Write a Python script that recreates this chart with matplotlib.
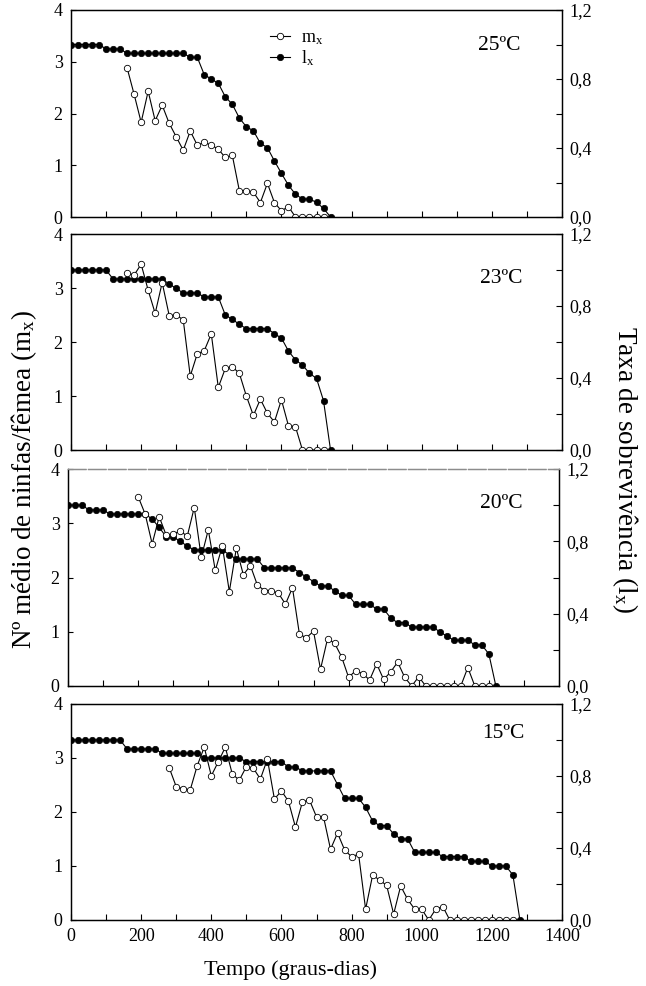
import matplotlib
matplotlib.use('agg')

import matplotlib.pyplot as plt
import numpy as np

plt.rcParams['font.family'] = ['Liberation Serif', 'DejaVu Serif']
plt.rcParams['mathtext.default'] = 'regular'

nan = np.nan

# tempo em graus-dias (leituras a cada 20 GD)
tempo = [0, 20, 40, 60, 80, 100, 120, 140, 160, 180, 200, 220, 240, 260, 280,
         300, 320, 340, 360, 380, 400, 420, 440, 460, 480, 500, 520, 540, 560,
         580, 600, 620, 640, 660, 680, 700, 720, 740, 760, 780, 800, 820, 840,
         860, 880, 900, 920, 940, 960, 980, 1000, 1020, 1040, 1060, 1080, 1100,
         1120, 1140, 1160, 1180, 1200, 1220, 1240, 1260, 1280]

temperaturas = ['25ºC', '23ºC', '20ºC', '15ºC']

# 25 C
lx_25 = [1.0, 1.0, 1.0, 1.0, 1.0, 0.974, 0.974, 0.974,
         0.949, 0.949, 0.949, 0.949, 0.949, 0.949, 0.949, 0.949, 0.949,
         0.926, 0.926, 0.825, 0.80, 0.775, 0.697, 0.653, 0.574, 0.523, 0.50,
         0.427, 0.402, 0.325, 0.253, 0.184, 0.132, 0.104, 0.104, 0.085, 0.05, 0.0]
mx_25 = [nan, nan, nan, nan, nan, nan, nan, nan,
         2.88, 2.37, 1.83, 2.43, 1.86, 2.16, 1.81, 1.55, 1.29, 1.66, 1.39, 1.44,
         1.39, 1.31, 1.15, 1.19, 0.51, 0.51, 0.48, 0.28, 0.65, 0.28, 0.12, 0.20,
         0, 0, 0, 0, 0]

# 23 C
lx_23 = [1.0, 1.0, 1.0, 1.0, 1.0, 1.0,
         0.95, 0.95, 0.95, 0.95, 0.95, 0.95, 0.95, 0.95,
         0.922, 0.898, 0.872, 0.872, 0.872, 0.85, 0.85, 0.85, 0.75, 0.726,
         0.698, 0.674, 0.674, 0.674, 0.674, 0.646, 0.622, 0.55, 0.50, 0.472,
         0.426, 0.398, 0.274, 0.0]
mx_23 = [nan, nan, nan, nan, nan, nan, nan, nan,
         3.28, 3.24, 3.44, 2.96, 2.53, 3.10, 2.49, 2.50, 2.41, 1.37, 1.78, 1.84,
         2.15, 1.16, 1.51, 1.54, 1.42, 1.0, 0.64, 0.94, 0.68, 0.52, 0.93, 0.45,
         0.43, 0, 0, 0, 0]

# 20 C
lx_20 = [1.0, 1.0, 1.0, 0.973, 0.973, 0.973,
         0.951, 0.951, 0.951, 0.951, 0.951, 0.951, 0.923, 0.877, 0.825, 0.825,
         0.80, 0.774, 0.752, 0.752, 0.752, 0.752, 0.752, 0.726,
         0.702, 0.702, 0.702, 0.702, 0.653, 0.653, 0.653, 0.653, 0.653,
         0.627, 0.603, 0.577, 0.553, 0.553, 0.527, 0.501, 0.501,
         0.452, 0.452, 0.452, 0.426, 0.426, 0.376, 0.35, 0.35,
         0.326, 0.326, 0.326, 0.326, 0.30, 0.276, 0.253, 0.253, 0.253,
         0.227, 0.227, 0.177, 0.0]
mx_20 = [nan, nan, nan, nan, nan, nan, nan, nan, nan, nan,
         3.49, 3.17, 2.62, 3.12, 2.78, 2.80, 2.86, 2.76, 3.29, 2.37, 2.88,
         2.13, 2.58, 1.74, 2.54, 2.05, 2.22, 1.86, 1.76, 1.76, 1.71, 1.51,
         1.81, 0.95, 0.89, 1.01, 0.31, 0.87, 0.79, 0.54, 0.16, 0.28, 0.23,
         0.11, 0.41, 0.12, 0.26, 0.44, 0.16, 0, 0.17, 0, 0, 0, 0, 0, 0,
         0.34, 0, 0, 0]

# 15 C
lx_15 = [1.0, 1.0, 1.0, 1.0, 1.0, 1.0, 1.0, 1.0,
         0.95, 0.95, 0.95, 0.95, 0.95,
         0.926, 0.926, 0.926, 0.926, 0.926, 0.926,
         0.90, 0.90, 0.90, 0.90, 0.90, 0.90,
         0.879, 0.879, 0.879, 0.879, 0.879, 0.879,
         0.85, 0.85, 0.828, 0.828, 0.828, 0.828, 0.828,
         0.752, 0.676, 0.676, 0.676, 0.626, 0.55, 0.524, 0.524, 0.478,
         0.45, 0.45, 0.376, 0.376, 0.376, 0.376, 0.352, 0.352, 0.352, 0.352,
         0.326, 0.326, 0.326, 0.30, 0.30, 0.30, 0.25, 0.0]
mx_15 = [nan, nan, nan, nan, nan, nan, nan, nan, nan, nan, nan, nan, nan, nan,
         2.82, 2.47, 2.43, 2.41, 2.86, 3.20, 2.67, 2.93, 3.20, 2.70, 2.59,
         2.84, 2.81, 2.61, 2.98, 2.24, 2.39, 2.20, 1.72, 2.19, 2.22, 1.91,
         1.91, 1.31, 1.61, 1.30, 1.17, 1.22, 0.20, 0.83, 0.74, 0.64, 0.11,
         0.63, 0.38, 0.20, 0.20, 0, 0.20, 0.25, 0, 0, 0, 0, 0, 0, 0, 0, 0, 0]

lx_all = [lx_25, lx_23, lx_20, lx_15]
mx_all = [mx_25, mx_23, mx_20, mx_15]

# posicao dos paineis em pixels: (esquerda, topo, direita, base)
W, H = 646, 986
paineis = [(71, 10, 562, 217), (71, 234, 562, 450),
           (68, 469, 559, 686), (71, 704, 562, 920)]
pos_temp = [(0.872, 0.83), (0.877, 0.795), (0.883, 0.842), (0.88, 0.864)]

fig = plt.figure(figsize=(W / 100, H / 100), dpi=100)

ms = 4.6
for k in range(4):
    l, t, r, b = paineis[k]
    ax = fig.add_axes([l / W, 1 - b / H, (r - l) / W, (b - t) / H])
    ax2 = ax.twinx()

    lx = lx_all[k]
    mx = mx_all[k]
    h_l, = ax2.plot(tempo[:len(lx)], lx, color='black', lw=0.8, marker='o',
                    ms=ms, mfc='black', mec='black', mew=0.5)
    h_m, = ax.plot(tempo[:len(mx)], mx, color='black', lw=0.8, marker='o',
                   ms=ms, mfc='white', mec='black', mew=0.6)
    ax.set_zorder(ax2.get_zorder() + 1)
    ax.patch.set_visible(False)

    ax.set_xlim(0, 1400)
    ax.set_ylim(0, 4)
    ax2.set_ylim(0, 1.2)

    ax.set_xticks(np.arange(0, 1401, 100))
    if k == 3:
        ax.set_xticklabels([str(v) if v % 200 == 0 else '' for v in range(0, 1401, 100)])
    else:
        ax.set_xticklabels([])
    ax.set_yticks([0, 1, 2, 3, 4])
    ax.set_yticklabels(['0', '1', '2', '3', '4'])
    ax2.set_yticks([0, 0.2, 0.4, 0.6, 0.8, 1.0, 1.2])
    ax2.set_yticklabels(['0,0', '', '0,4', '', '0,8', '', '1,2'])

    ax.tick_params(direction='in', length=4.5, width=0.8, labelsize=13, pad=6)
    ax.tick_params(axis='y', length=3.5)
    ax2.tick_params(direction='in', length=4.5, width=0.8, labelsize=13, pad=5)

    for a in (ax, ax2):
        for s in a.spines.values():
            s.set_linewidth(0.9)
    if k == 2:
        for a in (ax, ax2):
            a.spines['top'].set_color('0.55')
            a.spines['top'].set_linestyle((0, (14, 2)))

    ax.text(pos_temp[k][0], pos_temp[k][1], temperaturas[k], transform=ax.transAxes,
            ha='center', va='center', fontsize=15.5)

    if k == 0:
        ax.legend([h_m, h_l], ['m$_\\mathregular{x}$', 'l$_\\mathregular{x}$'],
                  loc='upper left', bbox_to_anchor=(0.405, 0.905), frameon=False,
                  fontsize=13, handlelength=1.1, handletextpad=0.6,
                  labelspacing=0.05, borderpad=0, borderaxespad=0)

fig.text(290 / W, 1 - 970 / H, 'Tempo (graus-dias)', ha='center', va='center',
         fontsize=16)
fig.text(24 / W, 1 - 480 / H, 'Nº médio de ninfas/fêmea (m$_\\mathregular{x}$)',
         ha='center', va='center', rotation=90, fontsize=19.5)
fig.text(625 / W, 1 - 470 / H, 'Taxa de sobrevivência (l$_\\mathregular{x}$)',
         ha='center', va='center', rotation=-90, fontsize=19.5)

fig.savefig('out.png', dpi=100)
